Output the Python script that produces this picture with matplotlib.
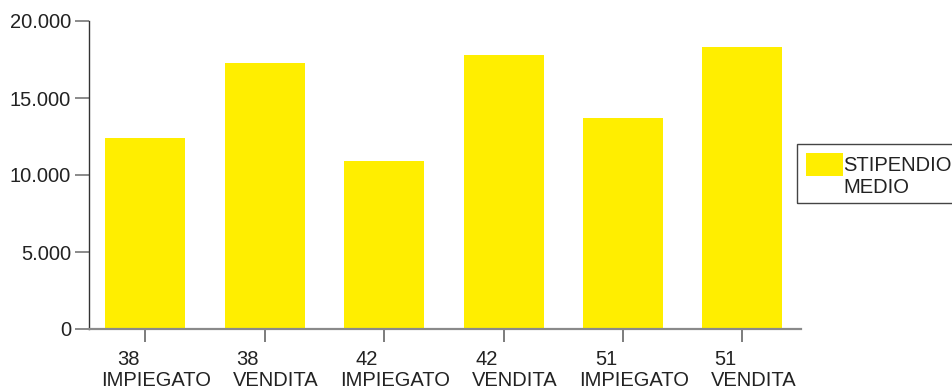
import matplotlib.pyplot as plt
from matplotlib.patches import Rectangle
from matplotlib.ticker import FuncFormatter

eta = ['38', '38', '42', '42', '51', '51']
mansione = ['IMPIEGATO', 'VENDITA', 'IMPIEGATO', 'VENDITA', 'IMPIEGATO', 'VENDITA']
stipendio_medio = [12400, 17270, 10900, 17800, 13700, 18300]
y_ticks = [0, 5000, 10000, 15000, 20000]
serie = 'STIPENDIO\nMEDIO'

GIALLO = '#ffee00'
TESTO = '#222222'
FS = 14.5
W, H = 953, 390

plt.rcParams['font.family'] = ['Liberation Sans', 'DejaVu Sans']

fig = plt.figure(figsize=(W / 100, H / 100), dpi=100)
ax = fig.add_axes([89 / W, 1 - 329 / H, (801 - 89) / W, (329 - 21) / H])

x = list(range(len(stipendio_medio)))
ax.bar(x, stipendio_medio, width=0.67, color=GIALLO, zorder=2)

ax.set_xlim(-0.47, len(x) - 1 + 0.49)
ax.set_ylim(0, 20000)
ax.set_yticks(y_ticks)
ax.yaxis.set_major_formatter(FuncFormatter(lambda v, p: f'{int(v):,}'.replace(',', '.')))
ax.tick_params(axis='y', direction='out', length=10, width=1.2, color='#777777',
               labelsize=FS, labelcolor=TESTO, pad=3)
ax.set_xticks(x)
ax.set_xticklabels([])
ax.tick_params(axis='x', direction='out', length=9, width=1.2, color='#666666')

for s in ['top', 'right']:
    ax.spines[s].set_visible(False)
ax.spines['left'].set_color('#333333')
ax.spines['left'].set_linewidth(1.0)
ax.spines['bottom'].set_color('#8a8a8a')
ax.spines['bottom'].set_linewidth(1.6)

# etichette su due righe: eta' sopra, mansione sotto
for i in x:
    ax.annotate(eta[i], xy=(i, 0), xycoords=('data', 'axes fraction'),
                xytext=(-17, -21), textcoords='offset pixels',
                ha='center', va='top', fontsize=FS, color=TESTO, annotation_clip=False)
    ax.annotate(mansione[i], xy=(i, 0), xycoords=('data', 'axes fraction'),
                xytext=(11, -42), textcoords='offset pixels',
                ha='center', va='top', fontsize=FS, color=TESTO, annotation_clip=False)

# legenda
def px(x0, y0, w, h):
    return (x0 / W, 1 - (y0 + h) / H), w / W, h / H

xy, w, h = px(797, 144, 200, 59)
fig.patches.append(Rectangle(xy, w, h, transform=fig.transFigure, fill=False,
                             edgecolor='#444444', linewidth=1.0))
xy, w, h = px(806, 153, 37, 23)
fig.patches.append(Rectangle(xy, w, h, transform=fig.transFigure,
                             facecolor=GIALLO, edgecolor='none'))
fig.text(843 / W, 1 - 156 / H, serie, ha='left', va='top', fontsize=FS,
         color=TESTO, linespacing=1.2)

fig.savefig('out.png', dpi=100)
